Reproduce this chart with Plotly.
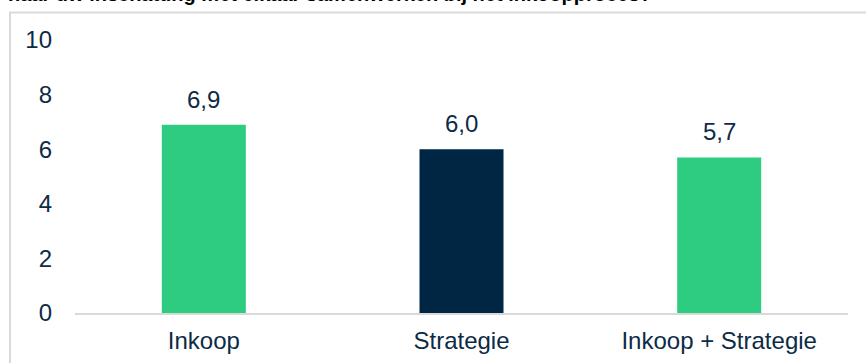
import plotly.graph_objects as go

categories = ["Inkoop", "Strategie", "Inkoop + Strategie"]
values = [6.9, 6.0, 5.7]
bar_colors = ["#2ECC80", "#002644", "#2ECC80"]
tick_vals = [0, 2, 4, 6, 8, 10]
title_text = "naar uw inschatting met elkaar samenwerken bij het inkoopproces?"

labels = [f"{v:.1f}".replace(".", ",") for v in values]

W, H = 866, 363
ML, MR, MT, MB = 75, 18, 40, 50
PW, PH = W - ML - MR, H - MT - MB

FONT = "Liberation Sans, Arial"
TXT = "#0D2B46"

fig = go.Figure()
fig.add_trace(go.Bar(x=categories, y=values, marker=dict(color=bar_colors, line=dict(width=0)),
                     width=0.326, hoverinfo="skip"))

for c, v, t in zip(categories, values, labels):
    fig.add_annotation(x=c, y=v, text=t, showarrow=False, yanchor="bottom", yshift=10,
                       font=dict(family=FONT, size=24, color=TXT))

# title partially cropped at top
fig.add_annotation(xref="paper", yref="paper", x=(6 - ML) / PW, y=1 + (MT - 7) / PH,
                   xanchor="left", yanchor="bottom", text="<b>" + title_text + "</b>",
                   showarrow=False, font=dict(family=FONT, size=20, color="#000000"))

# outer box border
fig.add_shape(type="rect", xref="paper", yref="paper", x0=(10 - ML) / PW, x1=1.5,
              y0=-1, y1=1 + (MT - 12.5) / PH, line=dict(color="#D9D9D9", width=2), layer="below")

fig.update_layout(
    width=W, height=H,
    margin=dict(l=ML, r=MR, t=MT, b=MB, autoexpand=False),
    paper_bgcolor="white", plot_bgcolor="white",
    showlegend=False,
    font=dict(family=FONT, size=24, color=TXT),
    xaxis=dict(showline=True, linecolor="#D9D9D9", linewidth=2, showgrid=False, ticks="",
               ticklabelstandoff=5, tickfont=dict(size=24, color=TXT), fixedrange=True,
               automargin=False),
    yaxis=dict(range=[0, 10], tickvals=tick_vals, showgrid=False, zeroline=False, showline=False,
               ticks="", ticklabelstandoff=22, tickfont=dict(size=24, color=TXT), fixedrange=True,
               automargin=False),
)

fig.write_html("out.html", config={"displayModeBar": False, "staticPlot": True},
               post_script="document.body.style.margin='0';document.body.style.overflow='hidden';")
